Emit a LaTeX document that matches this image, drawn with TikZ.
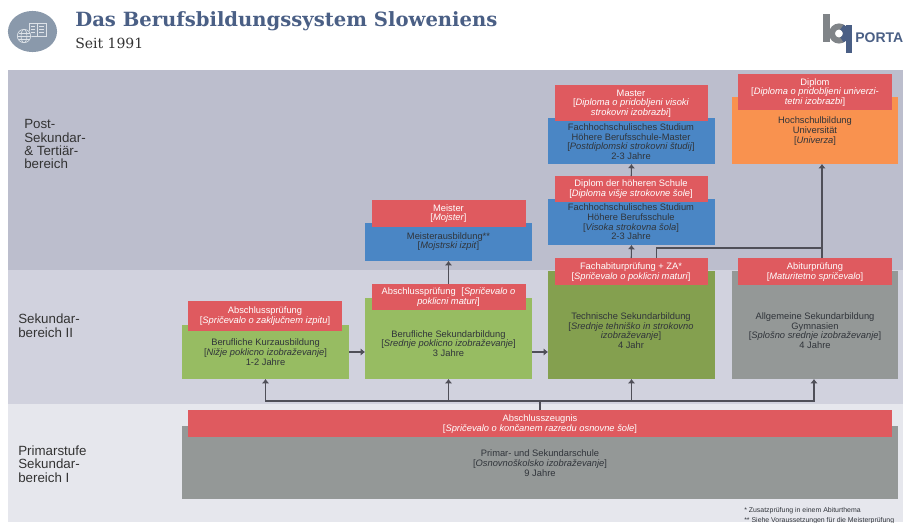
\documentclass[tikz,border=0pt]{standalone}
\usepackage{fontspec}
\setmainfont{Liberation Sans}
\newfontfamily\slab{DejaVu Serif}
\usetikzlibrary{arrows.meta}
\definecolor{bandA}{HTML}{BCBECD}
\definecolor{bandB}{HTML}{D1D2DE}
\definecolor{bandC}{HTML}{E6E7ED}
\definecolor{redb}{HTML}{DF5A5F}
\definecolor{blueb}{HTML}{4A86C5}
\definecolor{orangeb}{HTML}{F9924F}
\definecolor{greenb}{HTML}{97BC62}
\definecolor{greenc}{HTML}{84A04F}
\definecolor{greyb}{HTML}{949897}
\definecolor{titlec}{HTML}{4A5F85}
\definecolor{iconc}{HTML}{8A99AB}
\definecolor{iconl}{HTML}{DDE2E8}
\definecolor{linec}{HTML}{4F4F58}
\definecolor{bodyc}{HTML}{30343A}
\definecolor{logog}{HTML}{808488}
\newcommand\bx[6]{%
  \pgfmathsetmacro\bw{(#4-#2)*.75}\pgfmathsetmacro\bh{(#5-#3)*.75}%
  \node[#6,minimum width=\bw pt,minimum height=\bh pt] (#1) at ({(#2+#4)/2},{(#3+#5)/2}) {};}
\newcommand\br[1]{{[}\textit{#1}{]}}
\tikzset{
  x=.75pt,y=-.75pt,
  plain/.style={inner sep=0pt,outer sep=0pt,draw=none},
  band/.style={plain,fill=#1},
  boxf/.style={plain,fill=#1},
  redbox/.style={plain,fill=redb},
  body/.style={inner sep=0pt,align=center,text=bodyc,font=\fontsize{7}{7.25}\selectfont},
  redtext/.style={inner sep=0pt,align=center,text=white,font=\fontsize{7}{7.25}\selectfont},
  bandlabel/.style={inner sep=0pt,align=left,anchor=north west,text=black!80,font=\fontsize{10}{10}\selectfont},
  conn/.style={draw=linec,line width=.8pt},
  arr/.style={conn,-{Latex[length=3.2pt,width=5.5pt]}},
  note/.style={inner sep=0pt,anchor=west,text=bodyc,font=\fontsize{5.2}{6}\selectfont},
}
\begin{document}
\begin{tikzpicture}
\useasboundingbox (0,0) rectangle (903,522);
\clip (0,0) rectangle (903,522);
% bands
\bx{bA}{8}{70}{903}{270}{band=bandA}
\bx{bB}{8}{270}{903}{404}{band=bandB}
\bx{bC}{8}{404}{903}{522}{band=bandC}
% header
\fill[iconc] (32.5,31.5) ellipse [x radius=18.4pt,y radius=15.4pt];
\begin{scope}[draw=iconl,line width=.5pt]
  \draw (29,23) rectangle (37,36);
  \draw (37,23) rectangle (46,36);
  \draw (31,26) -- (35,26) (31,29) -- (35,29) (31,32) -- (35,32);
  \draw (39,26) -- (44,26) (39,29) -- (44,29) (39,32) -- (44,32);
  \fill[iconc] (24,36) circle [radius=5.6pt];
  \draw (24,36) circle [radius=5pt];
  \draw (24,36) ellipse [x radius=2.2pt,y radius=5pt];
  \draw (17.5,36) -- (30.5,36) (18.5,33) -- (29.5,33) (18.5,39) -- (29.5,39);
\end{scope}
\node[inner sep=0pt,anchor=west,text=titlec,font=\slab\bfseries\fontsize{14.7}{16}\selectfont] (title) at (75,21) {Das Berufsbildungssystem Sloweniens};
\node[inner sep=0pt,anchor=west,text=black!80,font=\slab\fontsize{10.5}{12}\selectfont] (subtitle) at (75,43) {Seit 1991};
% logo
\fill[logog] (823,14) rectangle (829.5,42);
\draw[logog,line width=4.5pt] (839,33.5) circle [radius=5.25pt];
\draw[titlec,line width=4.5pt] (839,33.5) +(65:5.25pt) arc [start angle=65,end angle=-65,radius=5.25pt];
\fill[titlec] (846,25) rectangle (852,53);
\node[inner sep=0pt,anchor=west,text=titlec,font=\bfseries\fontsize{10.5}{12}\selectfont] (portal) at (855,38) {PORTAL};
% band labels
\node[bandlabel] (lA) at (24,119.5) {Post-\\Sekundar-\\\& Tertiär-\\bereich};
\node[bandlabel] (lB) at (18,314) {Sekundar-\\bereich II};
\node[bandlabel] (lC) at (18,445.5) {Primarstufe\\Sekundar-\\bereich I};
% lower boxes
\bx{meister}{365}{223}{532}{261}{boxf=blueb}
\bx{diplom}{548}{199}{715}{245}{boxf=blueb}
\bx{master}{548}{118}{715}{164}{boxf=blueb}
\bx{hoch}{731.5}{97}{898}{164}{boxf=orangeb}
\bx{kurz}{182}{325}{349}{379}{boxf=greenb}
\bx{beruf}{365}{298}{532}{379}{boxf=greenb}
\bx{tech}{548}{271}{715}{379}{boxf=greenc}
\bx{allg}{731.5}{271}{898}{379}{boxf=greyb}
\bx{prim}{182}{426}{898}{499}{boxf=greyb}
% red boxes
\bx{rmeister}{371.5}{200}{525.5}{227}{redbox}
\bx{rdiplom}{554.5}{176}{708}{202}{redbox}
\bx{rmaster}{554.5}{85}{708}{121}{redbox}
\bx{rhoch}{738}{74}{892}{110}{redbox}
\bx{rkurz}{188}{301}{342}{331}{redbox}
\bx{rberuf}{371.5}{284}{525.5}{310}{redbox}
\bx{rtech}{554.5}{258}{708}{285}{redbox}
\bx{rallg}{738}{258}{892}{285}{redbox}
\bx{rprim}{188}{410}{892}{437}{redbox}
% red texts
\node[redtext] (trmeister) at (448.5,213.5) {Meister\\\br{Mojster}};
\node[redtext] (trdiplom) at (631,189) {Diplom der höheren Schule\\\br{Diploma višje strokovne šole}};
\node[redtext] (trmaster) at (631,103.5) {Master\\{[}\textit{Diploma o pridobljeni visoki}\\\textit{strokovni izobrazbi}{]}};
\node[redtext] (trhoch) at (815,92.5) {Diplom\\{[}\textit{Diploma o pridobljeni univerzi-}\\\textit{tetni izobrazbi}{]}};
\node[redtext] (trkurz) at (265,316) {Abschlussprüfung\\\br{Spričevalo o zaključnem izpitu}};
\node[redtext] (trberuf) at (448.5,297) {Abschlussprüfung\hspace{.6em}{[}\textit{Spričevalo o}\\\textit{poklicni maturi}{]}};
\node[redtext] (trtech) at (631,272) {Fachabiturprüfung + ZA*\\\br{Spričevalo o poklicni maturi}};
\node[redtext] (trallg) at (815,272) {Abiturprüfung\\\br{Maturitetno spričevalo}};
\node[redtext] (trprim) at (540,424) {Abschlusszeugnis\\\br{Spričevalo o končanem razredu osnovne šole}};
% body texts
\node[body] (tmeister) at (448.5,241.7) {Meisterausbildung**\\\br{Mojstrski izpit}};
\node[body] (tdiplom) at (631,222) {Fachhochschulisches Studium\\Höhere Berufsschule\\\br{Visoka strokovna šola}\\2-3 Jahre};
\node[body] (tmaster) at (631,141.5) {Fachhochschulisches Studium\\Höhere Berufsschule-Master\\\br{Postdiplomski strokovni študij}\\2-3 Jahre};
\node[body] (thoch) at (815,131) {Hochschulbildung\\Universität\\\br{Univerza}};
\node[body] (tkurz) at (265.5,352) {Berufliche Kurzausbildung\\\br{Nižje poklicno izobraževanje}\\1-2 Jahre};
\node[body] (tberuf) at (448.5,343.5) {Berufliche Sekundarbildung\\\br{Srednje poklicno izobraževanje}\\3 Jahre};
\node[body] (ttech) at (631,330.5) {Technische Sekundarbildung\\{[}\textit{Srednje tehniško in strokovno}\\\textit{izobraževanje}{]}\\4 Jahr};
\node[body] (tallg) at (815,330.5) {Allgemeine Sekundarbildung\\Gymnasien\\\br{Splošno srednje izobraževanje}\\4 Jahre};
\node[body] (tprim) at (540,463) {Primar- und Sekundarschule\\\br{Osnovnoškolsko izobraževanje}\\9 Jahre};
% notes
\node[note] (n1) at (744,511) {* Zusatzprüfung in einem Abiturthema};
\node[note] (n2) at (744,520.5) {** Siehe Voraussetzungen für die Meisterprüfung};
% connector helpers
\coordinate (rail) at (540,401);
\coordinate (upx) at (822,248);
\coordinate (allgx) at (814,401);
\coordinate (fork) at (656.5,248);
% connectors
\draw[conn] (rprim.north) -- (rail);
\draw[arr] (rail) -| (kurz.south);
\draw[arr] (rail) -| (beruf.south);
\draw[arr] (rail) -| (tech.south);
\draw[arr] (rail) -- (allgx) -- (allgx |- allg.south);
\draw[arr] (kurz.east) -- (kurz.east -| beruf.west);
\draw[arr] (beruf.east |- kurz.east) -- (tech.west |- kurz.east);
\draw[arr] (rberuf.north) -- (meister.south);
\draw[arr] (rtech.north) -- (diplom.south);
\draw[arr] (rdiplom.north) -- (master.south);
\draw[arr] (rallg.north -| upx) -- (hoch.south -| upx);
\draw[conn] (rtech.north -| fork) -- (fork) -- (upx);
\end{tikzpicture}
\end{document}
